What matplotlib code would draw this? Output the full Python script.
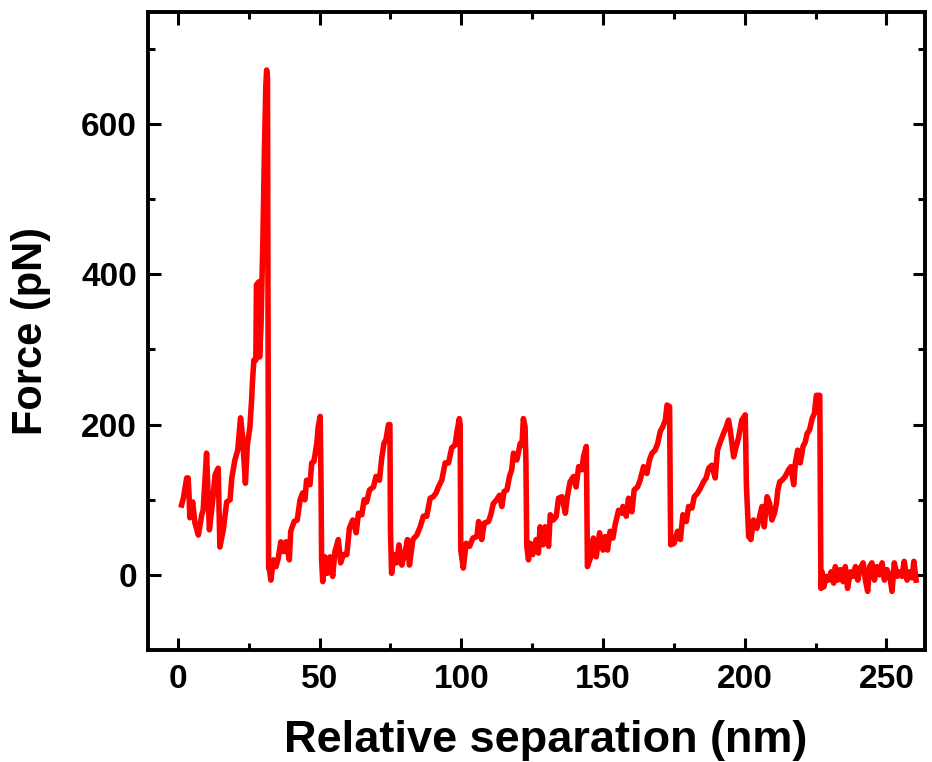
import matplotlib.pyplot as plt
import numpy as np

# Force-extension trace (nm, pN)
sep_nm = [
    1.3, 1.9, 3.1, 3.6, 4.0, 4.2, 5.2, 6.0, 7.2, 8.4, 8.9, 10.1, 11.1, 12.3, 13.1, 14.2,
    14.8, 16.0, 17.2, 18.4, 19.0, 20.1, 21.1, 22.1, 22.8, 23.8, 24.5, 25.4, 26.0, 26.3,
    26.8, 27.5, 27.7, 28.5, 28.8, 29.3, 30.0, 30.5, 31.0, 31.3, 31.6, 31.8, 32.0,
    # 1st sawtooth
    32.4, 32.8, 33.7, 34.6, 35.4, 36.3, 37.2, 38.1, 39.3, 39.8, 41.0, 42.1, 43.1, 44.0,
    44.8, 45.4, 46.6, 47.2, 48.0, 49.0, 49.5, 50.2, 50.5, 50.7,
    # 2nd
    51.1, 51.9, 52.7, 53.7, 54.6, 55.4, 56.6, 57.4, 58.4, 59.6, 60.5, 61.7, 62.9, 63.7,
    64.9, 65.7, 66.6, 67.6, 69.0, 69.9, 71.1, 71.9, 72.7, 73.4, 74.3, 74.8, 75.0, 75.4,
    # 3rd
    76.3, 77.2, 78.0, 79.0, 80.2, 81.0, 81.7, 82.9, 84.3, 85.5, 86.6, 87.8, 89.0, 90.1,
    91.1, 91.9, 93.1, 94.3, 95.5, 96.6, 97.8, 98.4, 99.3, 99.6, 99.8, 100.7,
    # 4th
    101.7, 102.9, 104.1, 105.5, 106.1, 107.2, 108.1, 109.6, 110.4, 111.3, 112.5, 113.5,
    114.3, 115.1, 116.1, 117.0, 117.8, 118.4, 119.6, 120.8, 121.4, 121.9, 122.5, 122.8,
    123.1, 123.7,
    # 5th
    124.3, 125.2, 126.4, 127.2, 127.8, 128.8, 129.6, 130.8, 131.4, 132.5, 133.5, 134.3,
    135.5, 136.7, 137.5, 138.4, 139.6, 140.5, 141.4, 142.6, 143.1, 144.1, 144.3, 144.5,
    # 6th
    145.7, 146.6, 147.6, 148.8, 150.0, 150.8, 151.6, 152.5, 153.5, 154.3, 155.5, 156.7,
    157.0, 158.2, 159.0, 160.2, 161.0, 162.2, 163.1, 164.3, 165.5, 166.4, 167.3, 168.4,
    169.3, 170.2, 171.1, 172.0, 172.6, 173.5, 173.7, 173.9,
    # 7th
    175.1, 176.3, 177.3, 178.2, 179.4, 180.2, 181.4, 182.2, 183.4, 184.3, 185.5, 186.4,
    187.3, 188.4, 189.6, 190.4, 191.4, 192.5, 193.5, 194.3, 194.9, 196.1, 197.0, 197.8,
    199.0, 200.2, 200.6, 201.4,
    # 8th
    202.2, 203.1, 204.3, 205.3, 206.1, 206.9, 207.9, 208.8, 209.6, 210.5, 211.2, 211.7,
    212.4, 213.2, 214.3, 215.5, 216.3, 217.3, 217.9, 218.7, 219.6, 220.6, 221.4, 222.0,
    222.9, 223.8, 224.6, 225.3, 226.5, 226.7, 226.9,
    # detached baseline
    227.3, 227.9, 228.8, 229.6, 230.5, 231.4, 232.0, 232.8, 233.8, 234.7, 235.5, 236.3,
    237.3, 238.2, 239.1, 239.9, 240.8, 241.8, 242.6, 243.4, 244.1, 244.9, 245.8, 246.7,
    247.6, 248.5, 249.3, 250.2, 251.2, 252.0, 252.8, 253.8, 254.7, 255.5, 256.3, 257.3,
    258.2, 259.1, 259.7, 260.5,
]
force_pN = [
    93, 102, 129, 129, 100, 76, 97, 69, 53, 80, 86, 162, 60, 100, 133, 142,
    37, 60, 97, 100, 129, 153, 166, 209, 184, 122, 173, 197, 233, 257,
    286, 286, 386, 390, 290, 330, 450, 560, 650, 672, 660, 300, 10,
    4, -7, 20, 11, 22, 44, 31, 44, 20, 58, 71, 73, 100, 109,
    100, 126, 120, 149, 151, 175, 197, 211, 120, 20,
    -9, 24, 2, 24, -2, 31, 47, 16, 27, 27, 62, 73, 56, 82,
    80, 100, 97, 113, 117, 131, 126, 155, 175, 180, 200, 200, 60, 2,
    27, 16, 40, 13, 31, 47, 13, 47, 53, 64, 78, 78, 102, 104,
    109, 117, 126, 149, 149, 169, 173, 189, 208, 200, 33, 9,
    42, 38, 49, 51, 71, 47, 69, 71, 80, 95, 100, 106,
    91, 111, 113, 131, 140, 162, 153, 175, 173, 208, 197, 150,
    38, 20,
    42, 27, 47, 29, 64, 40, 64, 38, 80, 73, 78, 102,
    104, 82, 106, 124, 131, 117, 144, 140, 157, 171, 100, 11,
    24, 49, 24, 56, 33, 51, 33, 58, 49, 67, 86, 82,
    91, 78, 102, 84, 113, 117, 126, 144, 135, 153, 162, 166,
    175, 191, 197, 206, 226, 224, 120, 40,
    42, 58, 47, 80, 71, 91, 89, 104, 109, 115, 124, 129,
    142, 146, 129, 166, 177, 188, 197, 206, 193, 157, 171, 182,
    206, 213, 120, 51,
    47, 73, 62, 78, 91, 64, 104, 95, 73, 82, 95, 113,
    124, 126, 131, 140, 144, 120, 149, 166, 149, 171, 177, 188,
    193, 208, 215, 239, 239, 100, -18,
    4, -16, -2, -7, 4, -11, 11, -7, 7, -9, 11, -18,
    4, -2, 11, -7, 9, 16, -7, -22, 11, 16, -7, 11,
    0, 16, -7, 7, -2, -22, 16, -2, 4, -2, 18, -7,
    4, -4, 18, -7,
]

x_ticks = [0, 50, 100, 150, 200, 250]
y_ticks = [0, 200, 400, 600]

plt.rcParams['font.family'] = ['Liberation Sans', 'DejaVu Sans']
plt.rcParams['font.weight'] = 'bold'

fig = plt.figure(figsize=(9.32, 7.62), dpi=100)
ax = fig.add_axes([0.159, 0.147, 0.834, 0.837])

ax.plot(sep_nm, force_pN, color='#ff0000', lw=4, solid_joinstyle='round')

ax.set_xlim(-10.5, 263.8)
ax.set_ylim(-100, 749)
ax.set_xticks(x_ticks)
ax.set_yticks(y_ticks)
ax.set_xticks(np.arange(25, 260, 50), minor=True)
ax.set_yticks(np.arange(100, 750, 200), minor=True)

for s in ax.spines.values():
    s.set_linewidth(2.8)

ax.tick_params(which='both', direction='in', top=True, right=True, width=2.2)
ax.tick_params(which='major', length=9)
ax.tick_params(which='minor', length=5)
ax.tick_params(axis='x', which='major', pad=10, labelsize=24)
ax.tick_params(axis='y', which='major', pad=8, labelsize=24)

ax.set_xlabel('Relative separation (nm)', fontsize=32.5, fontweight='bold')
ax.set_ylabel('Force (pN)', fontsize=30, fontweight='bold', labelpad=22)
# label sits slightly right of centre in the original
ax.xaxis.set_label_coords(0.511, -0.11)

fig.savefig('out.png', dpi=100)
